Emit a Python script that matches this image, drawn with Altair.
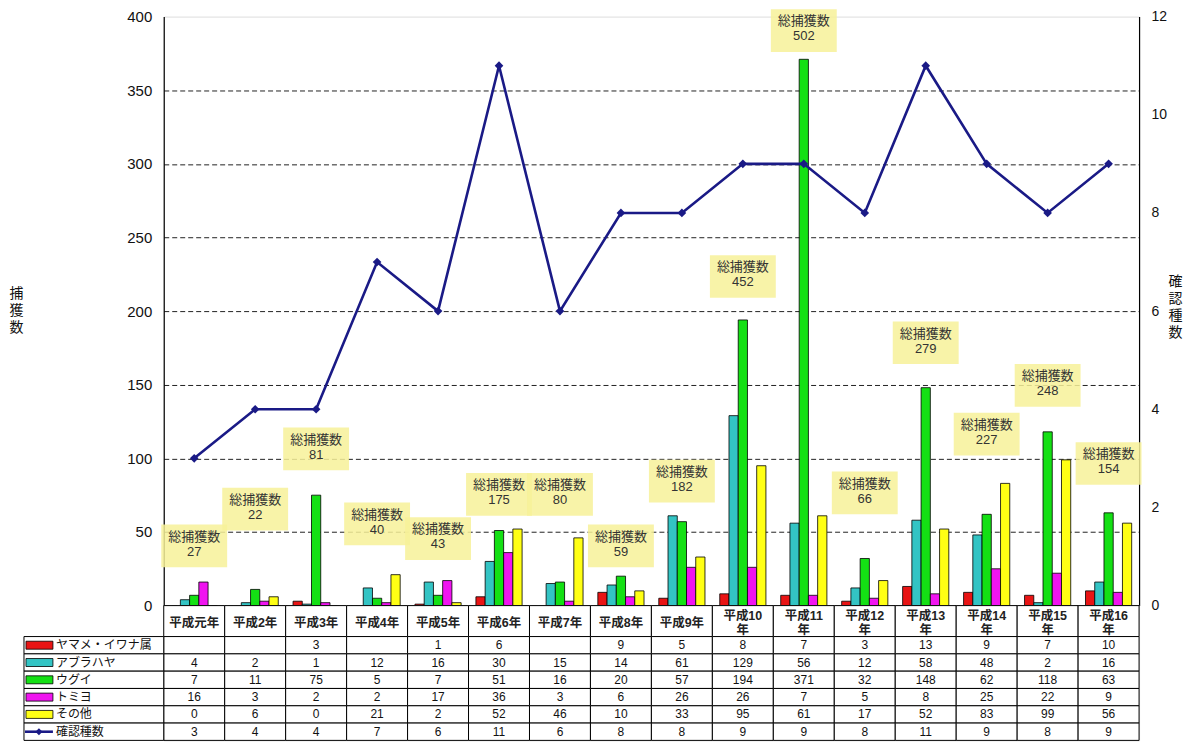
import altair as alt
import pandas as pd

# ---------------- data ----------------
years = ["平成元年", "平成2年", "平成3年", "平成4年", "平成5年", "平成6年", "平成7年", "平成8年",
         "平成9年", "平成10年", "平成11年", "平成12年", "平成13年", "平成14年", "平成15年", "平成16年"]
species = ["ヤマメ・イワナ属", "アブラハヤ", "ウグイ", "トミヨ", "その他"]
yamame = [None, None, 3, None, 1, 6, None, 9, 5, 8, 7, 3, 13, 9, 7, 10]
aburahaya = [4, 2, 1, 12, 16, 30, 15, 14, 61, 129, 56, 12, 58, 48, 2, 16]
ugui = [7, 11, 75, 5, 7, 51, 16, 20, 57, 194, 371, 32, 148, 62, 118, 63]
tomiyo = [16, 3, 2, 2, 17, 36, 3, 6, 26, 26, 7, 5, 8, 25, 22, 9]
sonota = [0, 6, 0, 21, 2, 52, 46, 10, 33, 95, 61, 17, 52, 83, 99, 56]
n_species = [3, 4, 4, 7, 6, 11, 6, 8, 8, 9, 9, 8, 11, 9, 8, 9]
totals = [27, 22, 81, 40, 43, 175, 80, 59, 182, 452, 502, 66, 279, 227, 248, 154]
line_name = "確認種数"
callout_word = "総捕獲数"
# height (in catch-count units) at which each total callout sits
callout_level = [42, 67, 108, 57, 47, 77, 77, 42, 86, 225, 392, 78, 180, 118, 151, 98]

colors = ["#E81414", "#33C4C4", "#14E014", "#F014F0", "#FFFF14"]
navy = "#1A1A86"
box_fill = "#F7F199"
FONT = "Liberation Sans, Noto Sans CJK JP"

series = [yamame, aburahaya, ugui, tomiyo, sonota]

# ---------------- tables ----------------
bar_df = pd.DataFrame([
    {"year": y, "species": s, "count": v}
    for s, vals in zip(species, series)
    for y, v in zip(years, vals) if v is not None
])
line_df = pd.DataFrame({"year": years, "n": n_species})
ann_df = pd.DataFrame({
    "year": years,
    "label": [f"{callout_word}\n{t}" for t in totals],
    "mid": callout_level,
})
ann_df["lo"] = ann_df["mid"] - 16
ann_df["hi"] = ann_df["mid"] + 13

year_df = pd.DataFrame({
    "year": years,
    "ylab": [y if len(y) <= 4 else y[:-1] + "\n" + y[-1] for y in years],
    "wrap": [len(y) > 4 for y in years],
})

rows = species + [line_name]
cell_df = pd.DataFrame([{"year": y, "row": r} for r in rows for y in years])
num_rows = []
for s, vals in zip(species, series):
    for y, v in zip(years, vals):
        if v is not None:
            num_rows.append({"year": y, "row": s, "label": str(v)})
for y, v in zip(years, n_species):
    num_rows.append({"year": y, "row": line_name, "label": str(v)})
num_df = pd.DataFrame(num_rows)
rows_df = pd.DataFrame({"row": rows})

# ---------------- scales ----------------
W = 977
x = alt.X("year:N", scale=alt.Scale(domain=years, paddingInner=0, paddingOuter=0), axis=None)
yscale = alt.Scale(domain=[0, 400])
color_scale = alt.Scale(domain=species, range=colors)

left_axis = alt.Axis(
    values=list(range(0, 401, 50)), title=["捕", "獲", "数"], titleAngle=0,
    titleX=-148, titleY=270, titleAlign="center", titleBaseline="top",
    titleFontSize=14, titleFontWeight="normal", titleLineHeight=17, titleColor="#111",
    labelFontSize=15, labelPadding=12, labelColor="#111", ticks=False,
    domainColor="black", domainWidth=1.2,
    grid=True, gridDash=[5, 3], gridColor="#222", gridWidth=1,
    gridOpacity={"condition": {"test": "datum.value >= 400", "value": 0}, "value": 1},
)
right_axis = alt.Axis(
    orient="right", values=list(range(0, 13, 2)), title=["確", "認", "種", "数"], titleAngle=0,
    titleX=36, titleY=258, titleAlign="center", titleBaseline="top",
    titleFontSize=14, titleFontWeight="normal", titleLineHeight=17, titleColor="#111",
    labelFontSize=14, labelPadding=12, labelColor="#111", ticks=False, grid=False,
    domainColor="black", domainWidth=1.2,
)

# ---------------- top plot ----------------
boxes = alt.Chart(ann_df).mark_rect(width=66, color=box_fill, opacity=0.85).encode(
    x=x, y=alt.Y("lo:Q", scale=yscale, axis=left_axis), y2="hi:Q"
)
bars = alt.Chart(bar_df).mark_bar(stroke="black", strokeWidth=0.8).encode(
    x=x,
    xOffset=alt.XOffset("species:N", scale=alt.Scale(domain=species, paddingInner=0, paddingOuter=0.8)),
    y=alt.Y("count:Q", scale=yscale, axis=left_axis),
    color=alt.Color("species:N", scale=color_scale, legend=None),
)
ann_text = alt.Chart(ann_df).mark_text(
    lineBreak="\n", fontSize=13, lineHeight=15, dy=-7, color="#333", font=FONT
).encode(x=x, y=alt.Y("mid:Q", scale=yscale, axis=left_axis), text="label:N")

line = alt.Chart(line_df).mark_line(
    color=navy, strokeWidth=2.6,
    point=alt.OverlayMarkDef(shape="diamond", size=75, filled=True, color=navy),
).encode(x=x, y=alt.Y("n:Q", scale=alt.Scale(domain=[0, 12]), axis=right_axis))

top = alt.layer(alt.layer(boxes, bars, ann_text), line).resolve_scale(y="independent").properties(
    width=W, height=590
)

# ---------------- category label row ----------------
lab_cells = alt.Chart(year_df).mark_rect(fill="white", stroke="black", strokeWidth=1).encode(x=x)
lab_text1 = alt.Chart(year_df).transform_filter("!datum.wrap").mark_text(
    fontSize=12.5, fontWeight="bold", dy=2, color="#222", font=FONT
).encode(x=x, text="ylab:N")
lab_text2 = alt.Chart(year_df).transform_filter("datum.wrap").mark_text(
    lineBreak="\n", fontSize=12.5, lineHeight=14, dy=-5, fontWeight="bold", color="#222", font=FONT
).encode(x=x, text="ylab:N")
label_row = alt.layer(lab_cells, lab_text1, lab_text2).properties(width=W, height=31)

# ---------------- data table ----------------
ty = alt.Y("row:N", scale=alt.Scale(domain=rows, paddingInner=0, paddingOuter=0), axis=None)
cells = alt.Chart(cell_df).mark_rect(fill="white", stroke="black", strokeWidth=1).encode(x=x, y=ty)
left_cells = alt.Chart(rows_df).mark_rect(fill="white", stroke="black", strokeWidth=1).encode(
    x=alt.value(-140), x2=alt.value(0), y=ty
)
swatches = alt.Chart(rows_df).transform_filter(
    alt.FieldOneOfPredicate(field="row", oneOf=species)
).mark_rect(height=8, stroke="black", strokeWidth=0.8).encode(
    x=alt.value(-138), x2=alt.value(-111), y=ty,
    color=alt.Color("row:N", scale=color_scale, legend=None),
)
sw_line = alt.Chart(rows_df).transform_filter(
    alt.FieldEqualPredicate(field="row", equal=line_name)
).mark_rule(color=navy, strokeWidth=2.6).encode(x=alt.value(-139), x2=alt.value(-111), y=ty)
sw_pt = alt.Chart(rows_df).transform_filter(
    alt.FieldEqualPredicate(field="row", equal=line_name)
).mark_point(shape="diamond", size=50, filled=True, color=navy, opacity=1).encode(x=alt.value(-125), y=ty)
names = alt.Chart(rows_df).mark_text(align="left", fontSize=12, color="#111", font=FONT).encode(
    x=alt.value(-108), y=ty, text="row:N"
)
nums = alt.Chart(num_df).mark_text(fontSize=12, color="#111", font=FONT).encode(
    x=x, y=ty, text="label:N"
)
table = alt.layer(cells, left_cells, swatches, sw_line, sw_pt, names, nums).properties(width=W, height=104)

chart = alt.vconcat(top, label_row, table, spacing=0, bounds="flush").resolve_scale(
    x="shared", y="independent", color="shared"
).properties(
    padding={"left": 0, "top": 0, "right": 0, "bottom": 0}
).configure_view(stroke=None).configure(font=FONT)

chart.save("out.html", embed_options={"renderer": "svg", "actions": False})
